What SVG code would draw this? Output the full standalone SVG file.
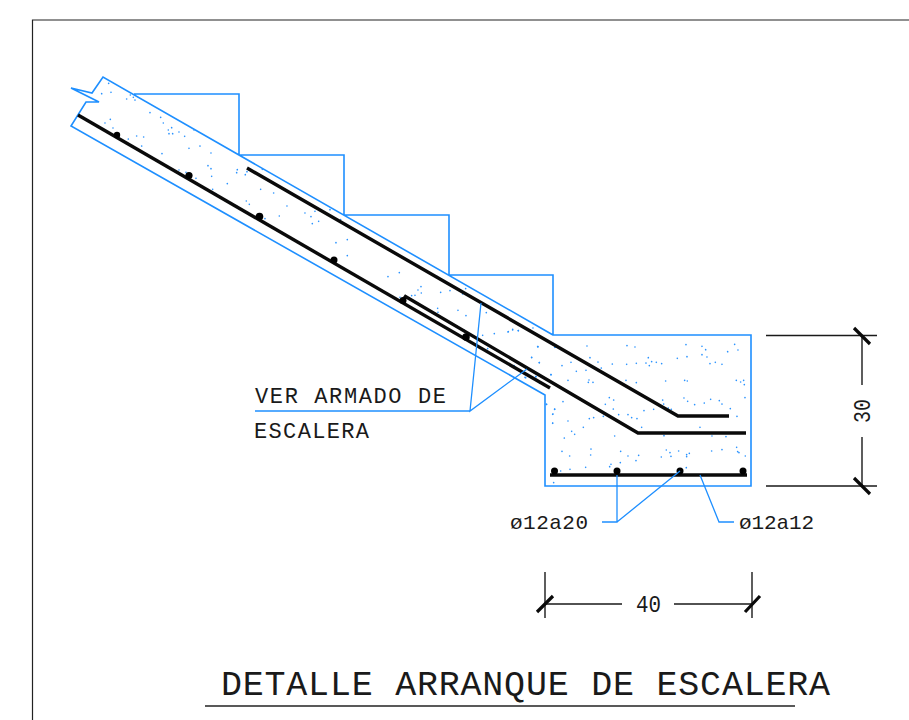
<svg xmlns="http://www.w3.org/2000/svg" width="909" height="720" viewBox="0 0 909 720">
<style>
.c{fill:none;stroke:#1e8fff;stroke-width:1.6;stroke-linejoin:miter}
.thin{stroke-width:1.3}
.r{fill:none;stroke:#0a0a0a;stroke-width:3.4}
.d{fill:none;stroke:#1a1a1a;stroke-width:1.4}
.t{fill:none;stroke:#0a0a0a;stroke-width:3.2}
.b{fill:#000}
.s{fill:none;stroke:#2a93ff;stroke-width:5;stroke-linecap:round}
text{font-family:"Liberation Mono",monospace;fill:#1a1a1a}
</style>
<rect width="909" height="720" fill="#fff"/>
<path id="frame" d="M909 20H32.500V720" fill="none" stroke="#222" stroke-width="1.2"/>
<g id="concrete">
<path class="c" d="M134 94H239V155H344V215H449V275H553V335H751V486H545V395L71 126L86 102H99L71 88L92 93L103 77L553 335"/>
</g>
<g id="stipple">
<path class="s" transform="translate(50 60) scale(.3333)" d="M176 70h0M155 101h0M183 97h0M241 105h0M230 117h0M250 112h0M255 120h0M300 158h0M332 172h0M340 189h0M165 189h0M181 178h0M189 204h0M355 210h0M365 203h0M357 221h0M368 221h0M387 216h0M404 229h0M432 210h0M235 237h0M260 228h0M281 231h0M275 258h0M336 281h0M417 265h0M450 258h0M483 279h0M474 317h0M483 326h0M485 349h0M387 330h0M408 337h0M438 355h0M532 371h0M562 329h0M560 338h0M586 344h0M591 335h0M637 328h0M488 388h0M497 401h0M562 440h0M589 423h0M598 433h0M632 388h0M671 399h0M711 438h0M688 468h0M645 476h0M765 459h0M783 470h0M795 454h0M806 484h0M787 491h0M840 449h0M872 479h0M858 548h0M892 539h0M892 587h0"/>
<path class="s" transform="translate(240 270) scale(.3333)" d="M444 20h0M478 8h0M592 20h0M677 56h0M543 50h0M534 60h0M544 69h0M525 76h0M515 77h0M602 67h0M630 62h0M668 72h0M480 82h0M593 115h0M594 127h0M654 121h0M678 137h0M739 128h0M650 168h0M660 176h0M672 180h0M684 200h0M728 196h0M763 191h0M804 186h0M818 180h0M835 182h0M879 174h0M894 230h0M945 232h0M875 263h0M898 278h0M933 314h0M823 288h0M857 323h0M887 320h0M900 340h0M743 236h0M920 403h0M944 418h0M938 433h0M938 460h0"/>
<path class="s" transform="translate(500 320) scale(.3333)" d="M25 35h0M38 28h0M55 32h0M113 80h0M95 112h0M118 128h0M165 82h0M155 72h0M42 137h0M75 172h0M108 170h0M118 188h0M153 164h0M186 137h0M213 127h0M229 154h0M258 151h0M204 181h0M261 78h0M270 113h0M294 126h0M304 144h0M337 132h0M381 77h0M405 81h0M380 133h0M409 130h0M445 113h0M438 129h0M448 137h0M455 125h0M469 127h0M485 131h0M532 115h0M558 74h0M561 110h0M606 79h0M617 89h0M606 104h0M621 111h0M630 131h0M646 127h0M666 133h0M683 95h0M704 73h0M714 90h0M267 180h0M265 187h0M279 187h0M378 181h0M409 188h0M497 183h0M554 181h0M562 183h0M709 181h0M722 186h0M731 181h0M733 194h0M735 233h0M552 234h0M563 244h0M584 254h0M613 249h0M632 238h0M658 242h0M666 252h0M691 266h0M711 289h0M488 240h0M491 252h0M505 264h0M514 268h0M328 233h0M341 240h0M316 253h0M340 267h0M384 284h0M356 284h0M395 293h0M411 296h0M432 272h0M461 268h0M310 289h0M281 293h0M268 296h0M189 245h0M164 267h0M159 282h0M139 253h0M204 303h0M158 309h0M215 334h0M224 343h0M250 322h0M193 354h0M344 348h0M425 322h0M444 338h0M492 347h0M600 322h0M636 348h0M669 340h0M678 350h0M273 387h0M272 405h0M186 394h0M209 408h0M362 394h0M384 408h0M416 406h0M408 422h0M361 428h0M333 433h0M329 440h0M499 390h0M484 411h0M510 398h0M513 409h0M536 393h0M560 404h0M568 400h0M560 410h0M559 443h0M635 393h0M666 389h0M710 382h0M713 395h0M717 398h0M736 408h0M257 442h0M210 448h0M182 453h0M161 488h0"/>
</g>
<g id="rebar">
<path class="r" d="M78 115L550 388"/>
<path class="r" d="M403 300L405.500 296.500L638 433H746"/>
<path class="r" d="M247 168L678 416H729"/>
<path class="r" d="M550 475H747"/>
<circle class="b" cx="117" cy="135" r="3.200"/><circle class="b" cx="189" cy="175.500" r="3.600"/><circle class="b" cx="259.500" cy="216.500" r="3.800"/><circle class="b" cx="334" cy="260" r="3.500"/><circle class="b" cx="403" cy="300.500" r="3.500"/><circle class="b" cx="466" cy="337" r="3.800"/>
<circle class="b" cx="554.500" cy="471" r="3.500"/><circle class="b" cx="617" cy="471" r="3.500"/><circle class="b" cx="680" cy="471" r="3.500"/><circle class="b" cx="743" cy="471" r="3.500"/>
</g>
<g id="connectors">
<path class="c" d="M255 411H470"/>
<path class="c thin" d="M481 303L470 411L527 369"/>
<path class="c thin" d="M602 522H617V475M617 522L680 471"/>
<path class="c thin" d="M700 475L719 522H734"/>
</g>
<g id="dimension-30">
<path class="d" d="M766 335.500H877M766 486H877M862 335V385M862 437V486"/>
<path class="t" d="M854 328L870 344M854 478L870 494"/>
<text transform="translate(869.500 423) rotate(-90)" font-size="23" textLength="24" lengthAdjust="spacingAndGlyphs">30</text>
</g>
<g id="dimension-40">
<path class="d" d="M545 572V618M752 572V618M545 604H622M674 604H752"/>
<path class="t" d="M537 612L553 596M745 612L760 596"/>
<text x="636" y="612" font-size="23" textLength="25" lengthAdjust="spacingAndGlyphs">40</text>
</g>
<g id="labels">
<text x="255" y="403" font-size="22" textLength="191" lengthAdjust="spacing">VER ARMADO DE</text>
<text x="254" y="438" font-size="22" textLength="115" lengthAdjust="spacing">ESCALERA</text>
<text x="510" y="529" font-size="21" textLength="78" lengthAdjust="spacing">ø12a20</text>
<text x="739" y="529" font-size="21" textLength="75" lengthAdjust="spacing">ø12a12</text>
</g>
<g id="title">
<text x="221" y="695" font-size="35" textLength="609" lengthAdjust="spacing">DETALLE ARRANQUE DE ESCALERA</text>
<path d="M205 706H795" fill="none" stroke="#222" stroke-width="1.600"/>
</g>
</svg>
